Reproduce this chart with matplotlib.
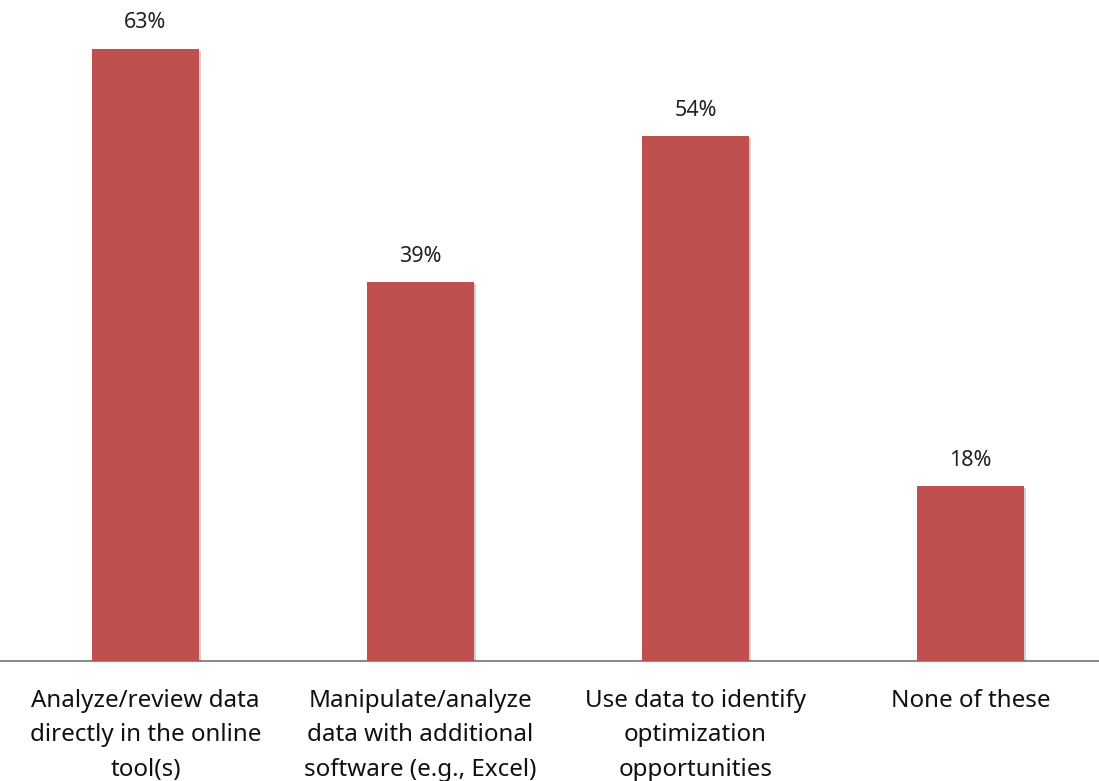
import matplotlib.pyplot as plt
import matplotlib.patheffects as pe

plt.rcParams["font.family"] = ["Noto Sans", "DejaVu Sans"]

# data
categories = [
    "Analyze/review data\ndirectly in the online\ntool(s)",
    "Manipulate/analyze\ndata with additional\nsoftware (e.g., Excel)",
    "Use data to identify\noptimization\nopportunities",
    "None of these",
]
values = [63, 39, 54, 18]
labels = ["63%", "39%", "54%", "18%"]

fig = plt.figure(figsize=(10.99, 7.81), dpi=100)
ax = fig.add_axes([0, 0.1537, 1, 0.8463])

x = range(len(values))
bars = ax.bar(x, values, width=0.39, color="#C0504D", zorder=3)
for b in bars:
    b.set_path_effects([pe.withSimplePatchShadow(offset=(1.5, -1.5), shadow_rgbFace="black", alpha=0.18), pe.Normal()])

for xi, v, t in zip(x, values, labels):
    ax.annotate(t, (xi, v), xytext=(0, 11), textcoords="offset points",
                ha="center", va="bottom", fontsize=15.5, color="#222222")

ax.set_xlim(-0.529, 3.467)
ax.set_ylim(0, 68.0)
ax.set_xticks(list(x))
ax.set_xticklabels(categories, fontsize=17.4, linespacing=1.58, color="#111111")
ax.tick_params(axis="x", length=0, pad=20)
ax.set_yticks([])

for s in ["top", "right", "left"]:
    ax.spines[s].set_visible(False)
ax.spines["bottom"].set_color("#8c8c8c")
ax.spines["bottom"].set_linewidth(1.5)

fig.savefig("out.png", dpi=100)
